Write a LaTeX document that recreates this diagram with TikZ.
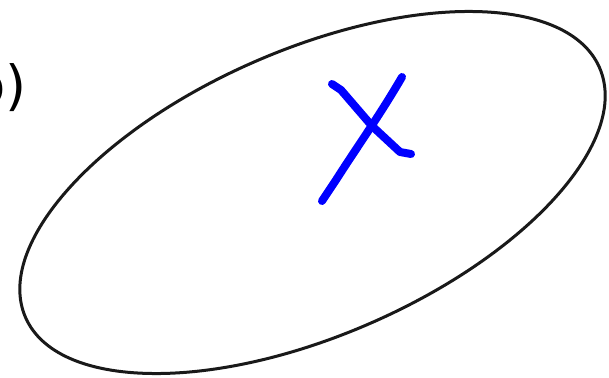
\documentclass[tikz,border=0pt]{standalone}
\usepackage{fontspec}
\setmainfont{DejaVu Sans}
\begin{document}
\begin{tikzpicture}[x=1pt,y=-1pt,
  outline/.style={draw=black!90,line width=3pt},
  mark stroke/.style={draw=blue,line width=8pt,line cap=round,line join=round}]
\useasboundingbox (0,0) rectangle (609,377);
\node[anchor=east,inner sep=0pt,font=\fontsize{54}{56}\selectfont] (lbl) at (27,88) {b)};
\draw[outline,rotate around={23.5:(312.5,192.5)}] (312.5,192.5) ellipse [x radius=313, y radius=143];
\coordinate (x1) at (322,201);
\coordinate (x2) at (402,77);
\coordinate (y1) at (332,84);
\coordinate (y2) at (411,154);
\draw[mark stroke] (x1) -- (336,180) .. controls (355,150) and (380,115) .. (x2);
\draw[mark stroke] (y1) -- (341,90) -- (372,126) -- (400,152) -- (y2);
\end{tikzpicture}
\end{document}
